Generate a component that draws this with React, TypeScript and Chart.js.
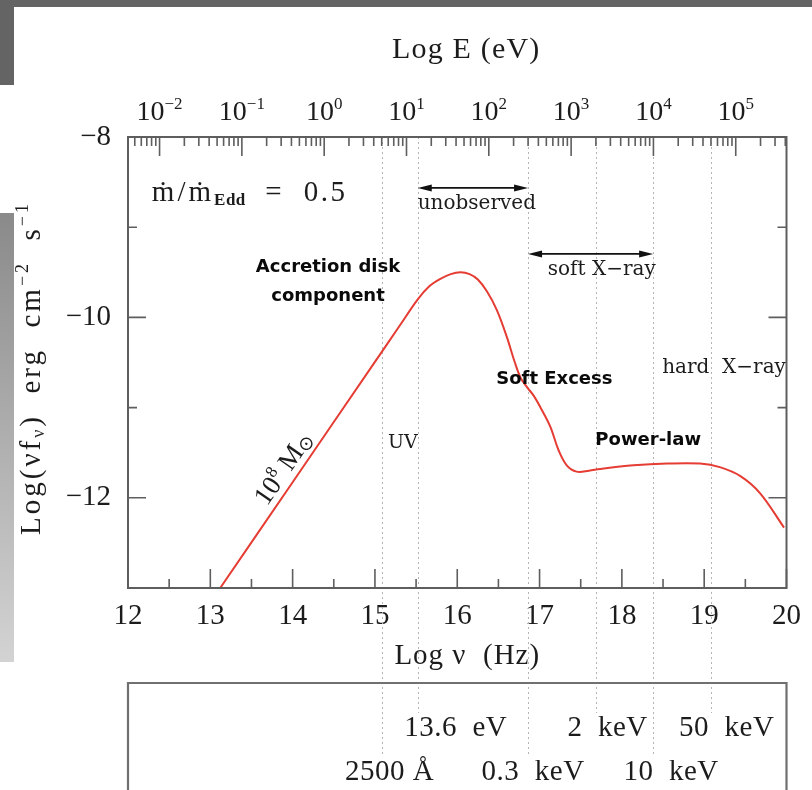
import React, { useEffect, useRef } from 'react';
import { Chart, registerables } from 'chart.js';

Chart.register(...registerables);

// Model spectral energy distribution: log ν (Hz) against log νF_ν (erg cm^-2 s^-1)
const logNu = [
  13.12, 14.0, 15.0, 15.3, 15.52, 15.66, 15.79, 15.92, 16.04, 16.15, 16.25, 16.36,
  16.48, 16.6, 16.7, 16.77, 16.845, 16.93, 17.006, 17.13, 17.23, 17.33, 17.45, 17.6,
  17.735, 18.14, 18.55, 18.95, 19.19, 19.44, 19.68, 19.97,
];
const logNuFnu = [
  -13.0, -11.827, -10.493, -10.093, -9.8, -9.655, -9.575, -9.52, -9.5, -9.52, -9.58, -9.71,
  -9.916, -10.21, -10.5, -10.67, -10.77, -10.87, -10.99, -11.21, -11.47, -11.64, -11.71, -11.7,
  -11.68, -11.64, -11.62, -11.62, -11.66, -11.76, -11.95, -12.33,
];

// Axis ranges and tick values
const nuRange = [12, 20];
const fluxRange = [-13, -8];
const LOG_HZ_PER_EV = 14.3834; // log10(2.418e14 Hz / eV)
const energyDecades = [-2, -1, 0, 1, 2, 3, 4, 5];
const fluxMajor = [-8, -10, -12];
const fluxMinor = [-9, -11];

// Reference frequencies (log ν) and their labels in the lower panel
const markerLogNu = [15.08, 15.52, 16.86, 17.68, 18.38, 19.08];
const markerLabels = ['2500 Å', '13.6  eV', '0.3  keV', '2  keV', '10  keV', '50  keV'];
const markerRow = [1, 0, 1, 0, 1, 0];
const markerLabelShift = [8, 38, 5, 12, 18, 16];

// Band arrows: [from log ν, to log ν, at log νF_ν]
const bandUnobserved = [15.52, 16.86, -8.565];
const bandSoftX = [16.86, 18.38, -9.296];

const SERIF = '"Liberation Serif", "DejaVu Serif", serif';
const SANS_BOLD = 'bold 18px "DejaVu Sans", sans-serif';
const INK = '#1c1c1c';
const FRAME = '#5e5e5e';

type Run = { t: string; size: number; dy?: number; bold?: boolean; family?: string; sp?: number };

function runFont(r: Run) {
  return `${r.bold ? 'bold ' : ''}${r.size}px ${r.family || SERIF}`;
}

function drawRuns(
  ctx: CanvasRenderingContext2D,
  runs: Run[],
  x: number,
  y: number,
  align: 'left' | 'center',
  spacing = 0,
) {
  const c = ctx as any;
  let total = 0;
  const widths = runs.map((r) => {
    ctx.font = runFont(r);
    c.letterSpacing = `${r.sp ?? spacing}px`;
    const w = ctx.measureText(r.t).width;
    total += w;
    return w;
  });
  let cx = align === 'center' ? x - total / 2 : x;
  ctx.textAlign = 'left';
  ctx.textBaseline = 'middle';
  runs.forEach((r, i) => {
    ctx.font = runFont(r);
    c.letterSpacing = `${r.sp ?? spacing}px`;
    ctx.fillText(r.t, cx, y + (r.dy || 0));
    cx += widths[i];
  });
  c.letterSpacing = '0px';
}

function arrow(ctx: CanvasRenderingContext2D, x1: number, x2: number, y: number) {
  const head = 14;
  const half = 3.5;
  ctx.strokeStyle = '#111';
  ctx.fillStyle = '#111';
  ctx.lineWidth = 1.8;
  ctx.beginPath();
  ctx.moveTo(x1 + 4, y);
  ctx.lineTo(x2 - 4, y);
  ctx.stroke();
  ctx.beginPath();
  ctx.moveTo(x1, y);
  ctx.lineTo(x1 + head, y - half);
  ctx.lineTo(x1 + head, y + half);
  ctx.closePath();
  ctx.fill();
  ctx.beginPath();
  ctx.moveTo(x2, y);
  ctx.lineTo(x2 - head, y - half);
  ctx.lineTo(x2 - head, y + half);
  ctx.closePath();
  ctx.fill();
}

const sedDecor = {
  id: 'sedDecor',
  beforeDatasetsDraw(chart: any) {
    const { ctx, chartArea, scales } = chart;
    const x = scales.x;
    ctx.save();
    ctx.strokeStyle = '#b4b4b4';
    ctx.lineWidth = 1;
    ctx.setLineDash([2, 3]);
    markerLogNu.forEach((v, i) => {
      const px = Math.round(x.getPixelForValue(v)) + 0.5;
      const end = markerRow[i] === 0 ? 713 : 757;
      ctx.beginPath();
      ctx.moveTo(px, chartArea.top);
      ctx.lineTo(px, end);
      ctx.stroke();
    });
    ctx.restore();
  },
  afterDatasetsDraw(chart: any) {
    const { ctx, chartArea, scales } = chart;
    const { left, right, top, bottom } = chartArea;
    const x = scales.x;
    const xE = scales.xE;
    const y = scales.y;
    ctx.save();

    // frame
    ctx.strokeStyle = FRAME;
    ctx.lineWidth = 2;
    ctx.strokeRect(left, top, right - left, bottom - top);

    // tick marks
    ctx.lineWidth = 1.6;
    ctx.beginPath();
    for (let v = nuRange[0]; v <= nuRange[1]; v += 0.5) {
      const px = x.getPixelForValue(v);
      const len = Number.isInteger(v) ? 19 : 9;
      ctx.moveTo(px, bottom);
      ctx.lineTo(px, bottom - len);
    }
    for (let d = energyDecades[0] - 1; d <= energyDecades[energyDecades.length - 1]; d++) {
      for (let k = 1; k <= 9; k++) {
        const v = d + Math.log10(k);
        if (v < xE.min || v > xE.max) continue;
        const px = xE.getPixelForValue(v);
        const len = k === 1 ? 19 : 9;
        ctx.moveTo(px, top);
        ctx.lineTo(px, top + len);
      }
    }
    fluxMajor.concat(fluxMinor).forEach((v) => {
      const py = y.getPixelForValue(v);
      const len = fluxMajor.includes(v) ? 18 : 9;
      ctx.moveTo(left, py);
      ctx.lineTo(left + len, py);
      ctx.moveTo(right, py);
      ctx.lineTo(right - len, py);
    });
    ctx.stroke();

    ctx.fillStyle = INK;

    // top axis labels: powers of ten in eV
    energyDecades.forEach((d) => {
      const px = xE.getPixelForValue(d);
      const exp = d < 0 ? `−${Math.abs(d)}` : `${d}`;
      drawRuns(ctx, [{ t: '10', size: 28 }, { t: exp, size: 17, dy: -8 }], px, 113, 'center');
    });

    // axis titles
    drawRuns(ctx, [{ t: 'Log E (eV)', size: 30 }], (left + right) / 2 + 9, 50, 'center', 1.2);
    drawRuns(ctx, [{ t: 'Log ν  (Hz)', size: 29 }], (left + right) / 2 + 10, 656, 'center', 1);

    ctx.save();
    ctx.translate(32, 368);
    ctx.rotate(-Math.PI / 2);
    drawRuns(
      ctx,
      [
        { t: 'Log(νf', size: 29 },
        { t: 'ν', size: 18, dy: 7 },
        { t: ')  erg  cm', size: 29 },
        { t: '−2', size: 18, dy: -9 },
        { t: '  s', size: 29 },
        { t: '−1', size: 18, dy: -9 },
      ],
      0,
      0,
      'center',
      3,
    );
    ctx.restore();

    // in-panel annotations
    drawRuns(
      ctx,
      [
        { t: 'ṁ/ṁ', size: 29, sp: 3 },
        { t: 'Edd', size: 17, dy: 8, bold: true, sp: 0.5 },
        { t: '  =  0.5', size: 29, sp: 2.5 },
      ],
      x.getPixelForValue(12.29),
      y.getPixelForValue(-8.62),
      'left',
      2,
    );
    const small = { size: 20, family: '"DejaVu Serif", serif' };
    drawRuns(ctx, [{ t: 'unobserved', ...small }], x.getPixelForValue(15.52), y.getPixelForValue(-8.742), 'left');
    drawRuns(ctx, [{ t: 'soft X−ray', ...small }], x.getPixelForValue(17.1), y.getPixelForValue(-9.47), 'left');
    drawRuns(ctx, [{ t: 'hard  X−ray', ...small }], x.getPixelForValue(18.49), y.getPixelForValue(-10.56), 'left');
    drawRuns(ctx, [{ t: 'UV', size: 19, family: '"DejaVu Serif", serif' }], x.getPixelForValue(15.16), y.getPixelForValue(-11.39), 'left');

    arrow(ctx, x.getPixelForValue(bandUnobserved[0]), x.getPixelForValue(bandUnobserved[1]), y.getPixelForValue(bandUnobserved[2]));
    arrow(ctx, x.getPixelForValue(bandSoftX[0]), x.getPixelForValue(bandSoftX[1]), y.getPixelForValue(bandSoftX[2]));

    ctx.fillStyle = '#0a0a0a';
    ctx.font = SANS_BOLD;
    ctx.textAlign = 'center';
    ctx.textBaseline = 'middle';
    ctx.fillText('Accretion disk', x.getPixelForValue(14.43), y.getPixelForValue(-9.45));
    ctx.fillText('component', x.getPixelForValue(14.43), y.getPixelForValue(-9.77));
    ctx.fillText('Soft Excess', x.getPixelForValue(17.18), y.getPixelForValue(-10.69));
    ctx.fillText('Power-law', x.getPixelForValue(18.32), y.getPixelForValue(-11.36));

    // black-hole mass label, aligned with the power-law rise of the disk
    const pts = chart.getDatasetMeta(0).data;
    const ang = Math.atan2(pts[2].y - pts[1].y, pts[2].x - pts[1].x);
    ctx.save();
    ctx.translate(x.getPixelForValue(13.9), y.getPixelForValue(-11.68));
    ctx.rotate(ang);
    ctx.fillStyle = INK;
    drawRuns(
      ctx,
      [
        { t: '10', size: 27 },
        { t: '8', size: 17, dy: -8 },
        { t: ' M', size: 27 },
        { t: '⊙', size: 19, dy: 5, family: '"DejaVu Sans", sans-serif' },
      ],
      0,
      0,
      'center',
    );
    ctx.restore();

    // lower panel
    ctx.strokeStyle = '#707070';
    ctx.lineWidth = 2.2;
    ctx.beginPath();
    ctx.moveTo(left, 800);
    ctx.lineTo(left, 683);
    ctx.lineTo(right, 683);
    ctx.lineTo(right, 800);
    ctx.stroke();

    ctx.fillStyle = INK;
    markerLabels.forEach((lab, i) => {
      const px = x.getPixelForValue(markerLogNu[i]) + markerLabelShift[i];
      const py = markerRow[i] === 0 ? 728 : 772;
      drawRuns(ctx, [{ t: lab, size: 29 }], px, py, 'center', 0.5);
    });

    ctx.restore();
  },
};

export default function App() {
  const canvasRef = useRef<HTMLCanvasElement | null>(null);

  useEffect(() => {
    const canvas = canvasRef.current;
    if (!canvas) return;
    const tickFont = { family: SERIF, size: 29 };
    const chart = new Chart(canvas, {
      type: 'line',
      data: {
        datasets: [
          {
            data: logNu.map((v, i) => ({ x: v, y: logNuFnu[i] })),
            borderColor: '#e53c33',
            borderWidth: 2,
            pointRadius: 0,
            fill: false,
            tension: 0.35,
          },
        ],
      },
      options: {
        responsive: false,
        animation: false,
        devicePixelRatio: 1,
        layout: { padding: { left: 0, top: 0, right: 25, bottom: 0 } },
        plugins: { legend: { display: false }, tooltip: { enabled: false } },
        scales: {
          x: {
            type: 'linear',
            position: 'bottom',
            min: nuRange[0],
            max: nuRange[1],
            afterFit: (s: any) => {
              s.height = 202;
            },
            grid: { display: false, drawTicks: false },
            border: { display: false },
            ticks: { stepSize: 1, padding: 11, font: tickFont, color: INK, maxRotation: 0, autoSkip: false },
          },
          xE: {
            type: 'linear',
            position: 'top',
            min: nuRange[0] - LOG_HZ_PER_EV,
            max: nuRange[1] - LOG_HZ_PER_EV,
            afterFit: (s: any) => {
              s.height = 137;
            },
            grid: { display: false, drawTicks: false },
            border: { display: false },
            ticks: { display: false },
          },
          y: {
            type: 'linear',
            position: 'left',
            min: fluxRange[0],
            max: fluxRange[1],
            afterFit: (s: any) => {
              s.width = 128;
            },
            grid: { display: false, drawTicks: false },
            border: { display: false },
            ticks: {
              stepSize: 1,
              padding: 17,
              font: tickFont,
              color: INK,
              autoSkip: false,
              callback: (v: any) => (fluxMajor.includes(Number(v)) ? `−${Math.abs(Number(v))}` : ''),
            },
          },
        },
      } as any,
      plugins: [sedDecor],
    });
    return () => chart.destroy();
  }, []);

  return (
    <div style={{ position: 'fixed', left: 0, top: 0, width: 812, height: 790, background: '#fff', overflow: 'hidden' }}>
      <canvas ref={canvasRef} width={812} height={790} style={{ position: 'absolute', left: 0, top: 0 }} />
      <div style={{ position: 'absolute', left: 0, top: 0, width: 812, height: 7, background: '#646464' }} />
      <div style={{ position: 'absolute', left: 0, top: 0, width: 14, height: 85, background: '#646464' }} />
      <div
        style={{
          position: 'absolute',
          left: 0,
          top: 213,
          width: 14,
          height: 449,
          background: 'linear-gradient(#8a8a8a, #d3d3d3)',
        }}
      />
    </div>
  );
}
